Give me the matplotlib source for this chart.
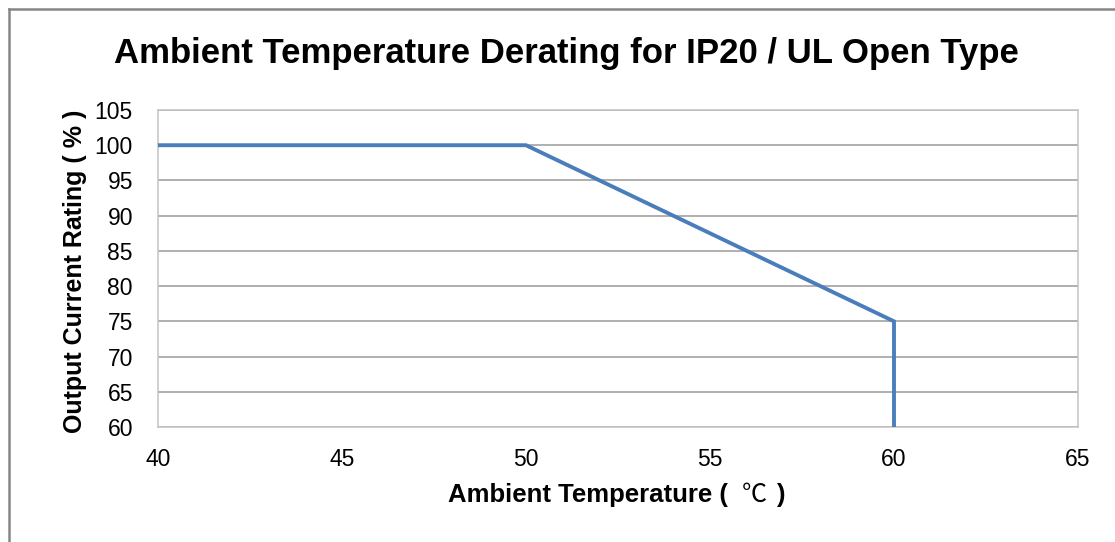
import matplotlib
matplotlib.use("Agg")
import matplotlib.pyplot as plt
from matplotlib.lines import Line2D

temps = [40, 50, 60, 60]
rating = [100, 100, 75, 60]
x_ticks = [40, 45, 50, 55, 60, 65]
y_ticks = [60, 65, 70, 75, 80, 85, 90, 95, 100, 105]

W, H = 1115, 542
fig = plt.figure(figsize=(W / 100, H / 100), dpi=100)
fig.patch.set_facecolor("white")

# outer chart border (left and top visible)
fig.add_artist(Line2D([8.5 / W, 8.5 / W], [0, 1 - 9 / H], transform=fig.transFigure,
                      color="#868686", lw=1.8))
fig.add_artist(Line2D([8.5 / W, 1.0], [1 - 9 / H, 1 - 9 / H], transform=fig.transFigure,
                      color="#868686", lw=1.8))

left, right, top, bottom = 158, 1078, 110, 427
ax = fig.add_axes([left / W, 1 - bottom / H, (right - left) / W, (bottom - top) / H])

ax.plot(temps, rating, color="#4a7ebb", lw=2.8, solid_joinstyle="miter", zorder=3)

ax.set_xlim(40, 65)
ax.set_ylim(60, 105)
ax.set_xticks(x_ticks)
ax.set_yticks(y_ticks)
ax.grid(axis="y", color="#9a9a9a", lw=1.1)
ax.set_axisbelow(True)
for s in ax.spines.values():
    s.set_color("#c4c4c4")
    s.set_linewidth(1.1)
ax.tick_params(length=0, labelsize=16.5, colors="black")
ax.tick_params(axis="x", pad=15)
ax.tick_params(axis="y", pad=18)
for lab in ax.get_xticklabels() + ax.get_yticklabels():
    lab.set_family(["Liberation Sans", "DejaVu Sans"])

fig.text(566 / W, 1 - 53 / H, "Ambient Temperature Derating for IP20 / UL Open Type",
         ha="center", va="center", fontsize=25, fontweight="bold",
         family=["Liberation Sans", "DejaVu Sans"])

# x-axis title: bold words, regular-weight degree sign as in the reference
yl = 1 - 495 / H
fig.text(448 / W, yl, "Ambient Temperature (", ha="left", va="center",
         fontsize=18.5, fontweight="bold", family=["Liberation Sans", "DejaVu Sans"])
fig.text(754 / W, yl, "℃", ha="center", va="center",
         fontsize=18, family=["Noto Sans CJK SC", "DejaVu Sans"])
fig.text(776 / W, yl, ")", ha="left", va="center",
         fontsize=18.5, fontweight="bold", family=["Liberation Sans", "DejaVu Sans"])

fig.text(75 / W, 1 - 271 / H, "Output Current Rating ( % )", ha="center", va="center",
         rotation=90, fontsize=18, fontweight="bold",
         family=["Liberation Sans", "DejaVu Sans"])

fig.savefig("out.png", dpi=100, facecolor="white")
